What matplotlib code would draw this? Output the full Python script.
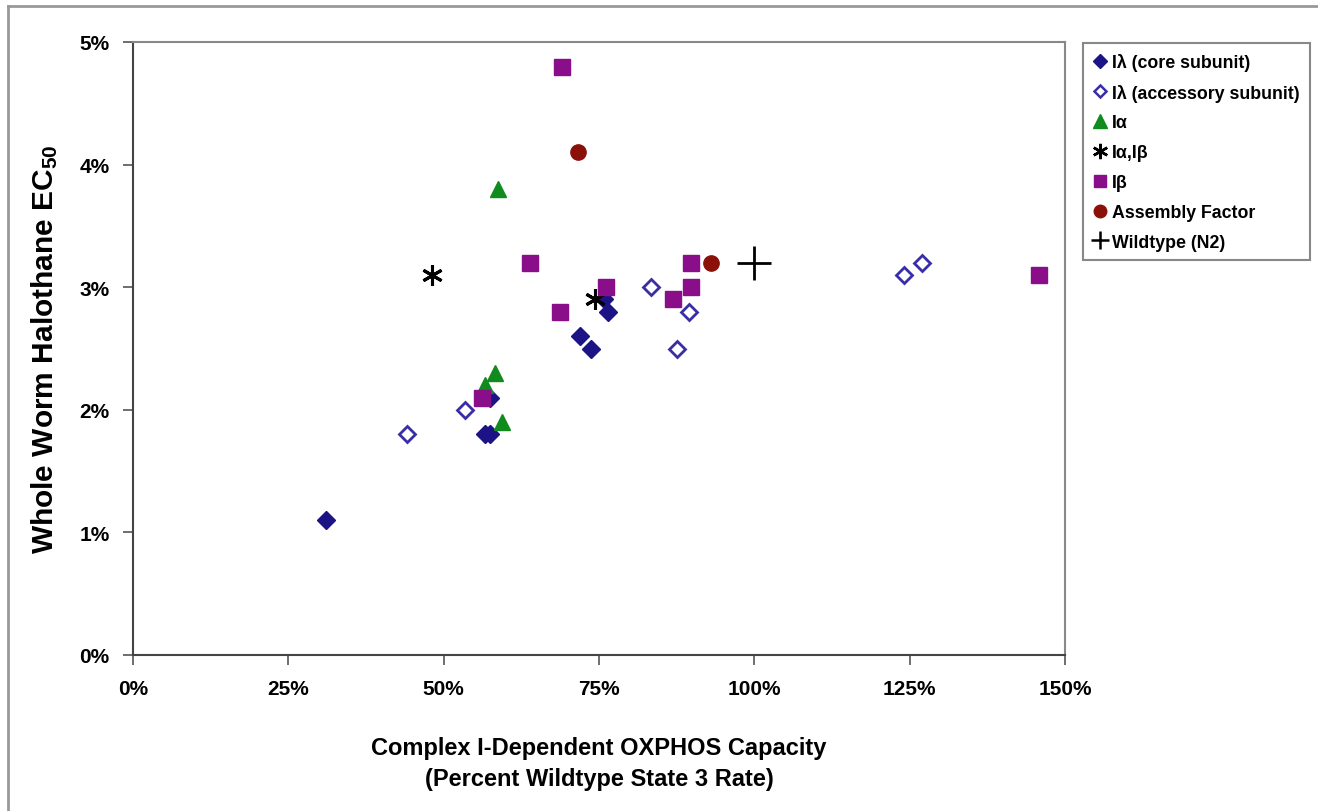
import numpy as np
import matplotlib.pyplot as plt
from matplotlib.lines import Line2D

plt.rcParams['font.family'] = ['Liberation Sans', 'DejaVu Sans']
plt.rcParams['font.weight'] = 'bold'
plt.rcParams['mathtext.fontset'] = 'custom'
plt.rcParams['mathtext.rm'] = 'Liberation Sans:bold'
plt.rcParams['mathtext.default'] = 'rm'

# data: x = OXPHOS capacity (% wildtype), y = halothane EC50 (%)
core_x = [31.0, 57.5, 56.7, 57.5, 71.9, 73.7, 75.8, 76.5]
core_y = [1.10, 2.10, 1.80, 1.80, 2.60, 2.50, 2.90, 2.80]

acc_x = [44.1, 53.4, 83.4, 89.5, 87.6, 124.1, 127.0]
acc_y = [1.80, 2.00, 3.00, 2.80, 2.50, 3.10, 3.20]

ia_x = [58.7, 56.7, 58.3, 59.4]
ia_y = [3.80, 2.20, 2.30, 1.90]

iab_x = [48.1, 74.4]
iab_y = [3.10, 2.90]

ib_x = [69.0, 63.9, 68.7, 56.2, 76.1, 86.9, 89.8, 89.8, 145.8]
ib_y = [4.80, 3.20, 2.80, 2.10, 3.00, 2.90, 3.00, 3.20, 3.10]

af_x = [71.6, 93.0]
af_y = [4.10, 3.20]

wt_x = [100.0]
wt_y = [3.20]

navy = '#1c1486'
purple = '#8a0d8a'
green = '#118a1e'
darkred = '#8a1008'

fig = plt.figure(figsize=(13.18, 8.12), dpi=100)
ax = fig.add_axes([133 / 1318, 1 - 656 / 812, (1065 - 133) / 1318, (656 - 43) / 812])

ax.plot(core_x, core_y, 'D', color=navy, ms=9, ls='none', label='I\u03bb (core subunit)')
ax.plot(acc_x, acc_y, 'D', mfc='white', mec='#3a2ea6', mew=2, ms=8.5, ls='none',
        label='I\u03bb (accessory subunit)')
ax.plot(ia_x, ia_y, '^', color=green, ms=12, ls='none', label='I\u03b1')
ax.plot(iab_x, iab_y, marker=(6, 2, 0), color='black', mew=2.2, ms=15, ls='none',
        label='I\u03b1,I\u03b2')
ax.plot(ib_x, ib_y, 's', color=purple, ms=11.5, ls='none', label='I\u03b2')
ax.plot(af_x, af_y, 'o', color=darkred, ms=11, ls='none', label='Assembly Factor')
ax.plot(wt_x, wt_y, '+', color='black', mew=2, ms=24, ls='none', label='Wildtype (N2)')

ax.set_xlim(0, 150)
ax.set_ylim(0, 5)
ax.set_xticks(np.arange(0, 151, 25))
ax.set_xticklabels([f'{v}%' for v in range(0, 151, 25)])
ax.set_yticks(np.arange(0, 6))
ax.set_yticklabels([f'{v}%' for v in range(0, 6)])
ax.tick_params(direction='out', length=7, width=1.2, color='#555555',
               labelsize=15, pad=10)
for lab in ax.get_xticklabels() + ax.get_yticklabels():
    lab.set_fontweight('bold')
for side in ['left', 'bottom']:
    ax.spines[side].set_color('#444444')
    ax.spines[side].set_linewidth(1.5)
for side in ['top', 'right']:
    ax.spines[side].set_color('#888888')
    ax.spines[side].set_linewidth(1.5)

ax.set_xlabel('Complex I-Dependent OXPHOS Capacity\n(Percent Wildtype State 3 Rate)',
              fontsize=17, fontweight='bold', labelpad=28, linespacing=1.4)
ax.set_ylabel('Whole Worm Halothane EC$_{50}$', fontsize=21.5, fontweight='bold', labelpad=14)

# legend with small markers
handles = [
    Line2D([], [], marker='D', color=navy, ms=7, ls='none'),
    Line2D([], [], marker='D', mfc='white', mec='#3a2ea6', mew=1.8, ms=6.5, ls='none'),
    Line2D([], [], marker='^', color=green, ms=10, ls='none'),
    Line2D([], [], marker=(6, 2, 0), color='black', mew=1.8, ms=11, ls='none'),
    Line2D([], [], marker='s', color=purple, ms=9, ls='none'),
    Line2D([], [], marker='o', color=darkred, ms=9, ls='none'),
    Line2D([], [], marker='+', color='black', mew=1.8, ms=13, ls='none'),
]
labels = [h.get_label() for h in ax.get_lines()]
leg = fig.legend(handles, labels, loc='upper left',
                 bbox_to_anchor=(1083 / 1318, 1 - 44 / 812), fancybox=False,
                 edgecolor='#888888', framealpha=1, fontsize=12.8, handlelength=0.8,
                 handletextpad=0.3, labelspacing=0.72, borderpad=0.55, borderaxespad=0)
leg.get_frame().set_linewidth(1.5)
for t in leg.get_texts():
    t.set_fontweight('bold')

# outer chart border (left and top edges)
fig.add_artist(Line2D([8 / 1318, 8 / 1318], [0, 1 - 7 / 812], color='#999999', lw=2,
                      transform=fig.transFigure))
fig.add_artist(Line2D([8 / 1318, 1], [1 - 7 / 812, 1 - 7 / 812], color='#999999', lw=2,
                      transform=fig.transFigure))

fig.savefig('out.png', dpi=100)
